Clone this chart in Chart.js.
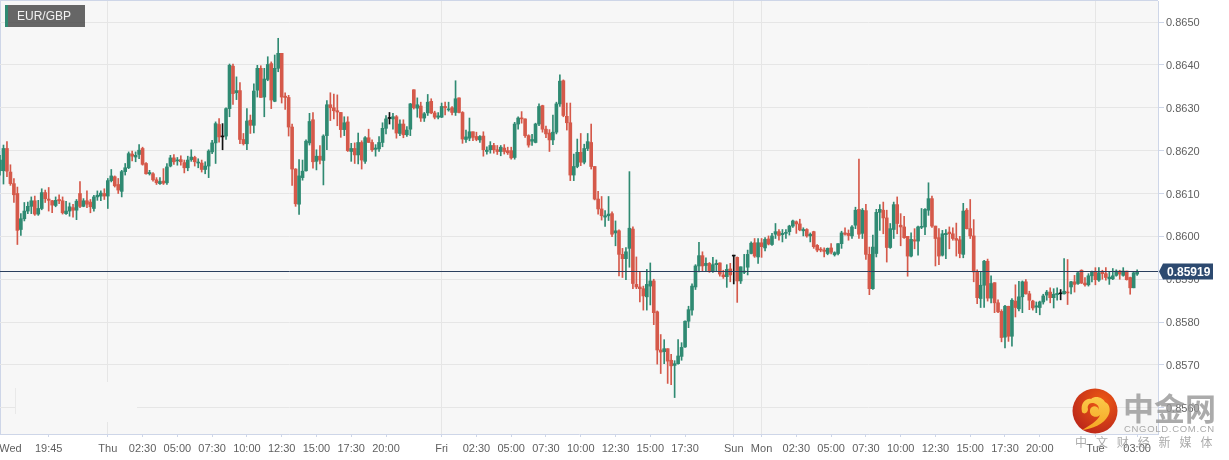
<!DOCTYPE html>
<html>
<head>
<meta charset="utf-8">
<title>EUR/GBP</title>
<script src="https://cdn.jsdelivr.net/npm/chart.js@4"></script>
<style>
    html, body { margin: 0; background: #fff; }
    #wrap { position: relative; width: 1229px; height: 460px; overflow: hidden; font-family: "Liberation Sans", Arial, sans-serif; }
    #badge { position: absolute; left: 5px; top: 5px; width: 77px; height: 22px; line-height: 23px; border-left: 3px solid #2f8a72; background: rgba(70,70,70,.82); color: #f2f2f2; font-size: 12px; text-indent: 9px; }
    #fade { position: absolute; left: 16px; top: 382px; width: 121px; height: 40px; background: #f7f7f7; }
    #fadeline { position: absolute; left: 15px; top: 388px; width: 1px; height: 26px; background: #e9e9e9; }
    #logo { position: absolute; left: 1072px; top: 388px; width: 46px; height: 46px; }
    #wm1 { position: absolute; left: 1123px; top: 385px; font: bold 31px "Noto Sans CJK SC"; color: rgba(150,150,150,.8); line-height: 44px; }
    #wm2 { position: absolute; left: 1124px; top: 423px; font-size: 9.5px; letter-spacing: .7px; color: #a9a9a9; line-height: 11px; white-space: nowrap; }
    #wm3 { position: absolute; left: 1075px; top: 434px; font: 12px "Noto Sans CJK SC"; letter-spacing: 8.9px; color: rgba(150,150,150,.8); line-height: 16px; white-space: nowrap; }
</style>
</head>
<body>
<div id="wrap">
    <canvas id="chart" width="1229" height="460"></canvas>
    <div id="badge">EUR/GBP</div>
    <div id="fade"></div>
    <div id="fadeline"></div>
    <svg id="logo" viewBox="0 0 46 46">
        <defs>
            <radialGradient id="disc" cx="65%" cy="30%" r="80%">
                <stop offset="0" stop-color="#ee5a14"/>
                <stop offset="1" stop-color="#b9241a"/>
            </radialGradient>
            <linearGradient id="cloud" x1="0" y1="0" x2="0" y2="1">
                <stop offset="0" stop-color="#fbc94a"/>
                <stop offset="1" stop-color="#f5a623"/>
            </linearGradient>
        </defs>
        <circle cx="23" cy="23" r="22.5" fill="url(#disc)"/>
        <path fill="url(#cloud)" d="M10 24 C8 15 14 10 19 11 C24 7 31 10 33 14 C38 16 39 23 36 28 C32 36 20 41 10 42 C17 38 26 33 28 27 C24 31 17 28 18 22 C19 17 26 17 27 22 C27 17 24 15 20 15 C17 15 15 18 16 21 C16 25 12 27 10 24 Z"/>
    </svg>
    <div id="wm1">中金网</div>
    <div id="wm2">CNGOLD.COM.CN</div>
    <div id="wm3">中文财经新媒体</div>
</div>
<script>
// 15 minute candles, prices in 1/100000
const opens = [
    86153,86153,86205,86150,86123,86100,86016,86041,86059,86070,
    86083,86052,86065,86102,86087,86083,86072,86086,86083,86053,
    86059,86067,86061,86100,86070,86083,86080,86065,86092,86094,
    86100,86094,86130,86139,86121,86105,86151,86160,86192,86185,
    86191,86205,86170,86146,86146,86132,86123,86129,86125,86164,
    86183,86176,86179,86172,86160,86179,86184,86171,86171,86156,
    86164,86197,86218,86261,86232,86234,86298,86397,86335,86340,
    86226,86216,86271,86259,86341,86392,86325,86366,86403,86315,
    86392,86427,86327,86324,86255,86157,86075,86137,86153,86218,
    86272,86175,86187,86177,86235,86307,86300,86293,86289,86249,
    86267,86198,86205,86190,86219,86175,86230,86219,86203,86204,
    86219,86252,86275,86274,86279,86240,86262,86237,86250,86342,
    86299,86304,86276,86288,86315,86288,86278,86278,86303,86295,
    86300,86289,86323,86289,86226,86229,86244,86233,86225,86234,
    86198,86202,86212,86202,86198,86206,86200,86200,86184,86262,
    86276,86274,86235,86222,86219,86262,86305,86250,86241,86225,
    86243,86309,86363,86280,86265,86143,86163,86196,86173,86205,
    86219,86163,86087,86064,86045,86048,86053,86008,86013,85958,
    85948,85972,86017,85888,85882,85878,85859,85884,85896,85824,
    85735,85731,85738,85711,85699,85703,85720,85742,85802,85828,
    85882,85931,85955,85932,85937,85919,85934,85938,85910,85906,
    85924,85954,85951,85896,85916,85928,85960,85985,85952,85985,
    85973,85994,85981,86005,86011,86004,86007,86011,86024,86034,
    86029,86013,86016,86001,86011,85979,85970,85968,85960,85973,
    85957,85960,85983,86008,86007,86001,86026,86063,86007,86060,
    85958,85878,85960,86056,86061,86043,85974,86016,86074,86026,
    86022,86000,85954,85992,85989,86021,86022,86061,86088,86024,
    85997,85956,86004,86010,86006,85995,85992,85958,86061,86018,
    86001,85917,85855,85886,85942,85856,85892,85845,85825,85765,
    85837,85767,85849,85831,85859,85894,85866,85849,85835,85834,
    85847,85863,85870,85857,85864,85866,85866,85870,85882,85894,
    85890,85921,85891,85887,85908,85917,85898,85917,85913,85901,
    85901,85909,85919,85909,85919,85904,85880,85912
];
const highs = [
    86189,86213,86221,86167,86135,86115,86053,86079,86080,86092,
    86094,86084,86111,86108,86114,86084,86092,86097,86092,86082,
    86078,86075,86086,86128,86088,86106,86086,86096,86106,86106,
    86111,86135,86156,86141,86135,86154,86170,86197,86199,86197,
    86214,86208,86172,86154,86149,86137,86137,86158,86170,86189,
    86191,86184,86188,86178,86187,86202,86187,86181,86178,86174,
    86202,86224,86267,86275,86263,86300,86402,86402,86372,86359,
    86240,86298,86283,86356,86399,86398,86392,86419,86407,86423,
    86462,86427,86335,86329,86262,86158,86179,86178,86225,86287,
    86289,86202,86212,86237,86317,86335,86332,86330,86289,86279,
    86279,86217,86218,86241,86223,86233,86250,86225,86214,86233,
    86265,86282,86289,86287,86282,86272,86272,86256,86310,86342,
    86323,86313,86289,86331,86321,86292,86289,86311,86313,86313,
    86303,86363,86323,86291,86248,86276,86244,86243,86235,86244,
    86209,86221,86217,86212,86212,86214,86208,86208,86266,86279,
    86291,86274,86237,86238,86264,86309,86306,86257,86249,86283,
    86313,86377,86365,86311,86311,86192,86227,86240,86215,86240,
    86262,86163,86105,86093,86060,86093,86057,86036,86015,85972,
    85974,86151,86022,85952,85917,85884,85923,85938,85900,85826,
    85771,85759,85738,85725,85710,85759,85752,85803,85837,85889,
    85934,85986,85964,85950,85939,85951,85945,85938,85921,85934,
    85937,85956,85952,85929,85958,85968,85987,85995,85995,85995,
    85997,86001,86007,86030,86016,86016,86016,86026,86038,86036,
    86040,86020,86018,86008,86012,85981,85974,85973,85973,85983,
    85964,85983,86012,86020,86015,86025,86068,86180,86065,86075,
    85975,86003,86063,86074,86080,86061,86030,86080,86092,86053,
    86047,86000,86008,86018,86024,86065,86065,86125,86094,86024,
    86018,86014,86016,86022,86020,86031,86000,86077,86065,86086,
    86039,85922,85917,85944,85947,85908,85892,85852,85829,85839,
    85837,85855,85887,85895,85896,85899,85872,85851,85847,85849,
    85865,85874,85880,85878,85880,85876,85948,85946,85895,85909,
    85917,85922,85904,85913,85919,85927,85927,85921,85927,85917,
    85925,85922,85921,85927,85919,85905,85916,85922
];
const lows = [
    86143,86122,86139,86119,86079,85981,86002,86036,86053,86053,
    86049,86049,86062,86079,86059,86055,86069,86076,86052,86051,
    86047,86045,86039,86067,86069,86067,86055,86059,86084,86083,
    86086,86065,86127,86115,86100,86092,86143,86158,86176,86174,
    86181,86166,86145,86143,86129,86121,86121,86121,86121,86162,
    86168,86166,86166,86148,86153,86175,86164,86160,86150,86146,
    86137,86193,86170,86220,86202,86226,86279,86308,86319,86216,
    86213,86202,86240,86241,86325,86324,86279,86363,86298,86314,
    86384,86311,86296,86234,86119,86070,86051,86131,86152,86213,
    86159,86155,86169,86120,86202,86270,86274,86258,86231,86235,
    86198,86175,86170,86169,86157,86170,86219,86198,86187,86198,
    86209,86239,86262,86250,86229,86235,86230,86233,86235,86297,
    86278,86268,86268,86282,86286,86274,86274,86277,86283,86292,
    86283,86282,86288,86217,86219,86223,86223,86223,86219,86187,
    86192,86194,86194,86191,86188,86192,86191,86180,86180,86250,
    86264,86231,86208,86212,86218,86258,86243,86230,86198,86214,
    86239,86303,86279,86248,86130,86130,86160,86165,86169,86200,
    86157,86085,86052,86038,86023,86037,85999,85978,85908,85904,
    85899,85928,85878,85878,85847,85828,85828,85840,85794,85702,
    85680,85703,85657,85654,85624,85702,85711,85741,85787,85816,
    85876,85917,85920,85920,85916,85916,85919,85907,85902,85881,
    85894,85889,85846,85890,85913,85910,85959,85951,85937,85951,
    85966,85980,85979,85995,85991,85987,85995,86003,86021,86007,
    86013,86001,85998,85987,85972,85964,85964,85952,85957,85959,
    85954,85957,85972,86003,85991,85995,86018,85995,85995,85946,
    85864,85876,85952,86014,86006,85940,85972,85995,86006,85978,
    85995,85907,85952,85971,85956,86018,86004,86049,86021,85931,
    85934,85954,85948,85971,85991,85954,85950,85950,86017,85995,
    85894,85843,85834,85834,85849,85845,85822,85822,85754,85740,
    85755,85744,85812,85826,85822,85865,85829,85828,85822,85817,
    85842,85851,85845,85833,85851,85852,85865,85841,85866,85870,
    85888,85890,85884,85884,85894,85887,85895,85900,85898,85888,
    85899,85907,85900,85907,85898,85865,85880,85909
];
const closes = [
    86178,86205,86152,86123,86097,86014,86041,86059,86070,86083,
    86052,86065,86102,86088,86084,86073,86084,86083,86055,86059,
    86069,86061,86082,86070,86083,86075,86069,86092,86096,86101,
    86094,86130,86141,86118,86108,86151,86160,86193,86187,86189,
    86201,86168,86146,86149,86132,86125,86128,86124,86162,86183,
    86174,86178,86174,86160,86178,86185,86174,86173,86156,86164,
    86199,86218,86263,86232,86232,86298,86399,86333,86340,86226,
    86216,86269,86259,86339,86392,86324,86367,86401,86318,86392,
    86427,86325,86324,86255,86157,86076,86141,86152,86222,86268,
    86174,86187,86178,86234,86307,86300,86293,86290,86249,86265,
    86200,86205,86190,86219,86178,86230,86219,86202,86206,86219,
    86252,86274,86275,86279,86241,86262,86237,86248,86309,86300,
    86307,86276,86286,86313,86288,86278,86281,86303,86300,86296,
    86289,86321,86289,86227,86232,86244,86231,86226,86233,86202,
    86201,86212,86202,86198,86208,86198,86195,86183,86262,86276,
    86274,86235,86213,86226,86262,86303,86250,86239,86225,86243,
    86309,86362,86282,86265,86143,86163,86196,86173,86205,86221,
    86163,86087,86064,86048,86048,86052,86005,86013,85958,85948,
    85964,86019,85890,85882,85878,85861,85888,85896,85822,85735,
    85730,85738,85709,85698,85703,85721,85741,85802,85829,85884,
    85931,85955,85931,85937,85919,85934,85937,85912,85906,85923,
    85910,85954,85896,85929,85919,85958,85984,85954,85985,85976,
    85993,85982,86001,86011,86002,86007,86009,86024,86036,86029,
    86015,86016,86001,86005,85976,85968,85968,85965,85972,85963,
    85962,85983,86008,86005,86002,86022,86061,86005,86061,85958,
    85878,85975,86056,86063,86043,85974,86018,86074,86030,86022,
    85997,85954,85993,85989,86022,86022,86063,86088,86024,85995,
    85954,86006,86007,86006,85995,85991,85960,86059,86018,86001,
    85917,85857,85886,85942,85856,85890,85845,85824,85764,85837,
    85767,85851,85834,85859,85894,85866,85851,85833,85838,85847,
    85861,85870,85857,85865,85867,85866,85872,85868,85894,85888,
    85915,85891,85887,85908,85917,85899,85915,85913,85904,85905,
    85908,85919,85912,85919,85899,85880,85915,85917
];

// slot index of each time label, the axis has a few empty slots after the last candle
const slotCount = 334;
const tickSlots = [3, 14, 31, 41, 51, 61, 71, 81, 91, 101, 111, 127, 137, 147, 157, 167, 177, 187, 197, 211, 219, 229, 239, 249, 259, 269, 279, 289, 299, 315, 327];
const tickLabels = ["Wed", "19:45", "Thu", "02:30", "05:00", "07:30", "10:00", "12:30", "15:00", "17:30", "20:00", "Fri", "02:30", "05:00", "07:30", "10:00", "12:30", "15:00", "17:30", "Sun", "Mon", "02:30", "05:00", "07:30", "10:00", "12:30", "15:00", "17:30", "20:00", "Tue", "03:00"];
const dayLabels = ["Thu", "Fri", "Sun", "Mon", "Tue"];
const priceTicks = [0.8650, 0.8640, 0.8630, 0.8620, 0.8610, 0.8600, 0.8590, 0.8580, 0.8570, 0.8560];
const lastPrice = 0.85919;

const UP = "#2f8a72", DOWN = "#d5594a", DOJI = "#111111";
const GRID = "#e6e6e6", AXIS = "#ced6e8", TEXT = "#5f5f5f";

const price = v => v / 100000;
const candleColor = i => closes[i] > opens[i] ? UP : closes[i] < opens[i] ? DOWN : DOJI;
const colors = opens.map((_, i) => candleColor(i));
const slots = Array.from({ length: slotCount }, (_, i) => String(i));

// fondo del área y línea del último precio
const framePlugin = {
    id: "frame",
    beforeDraw(chart) {
        const { ctx, chartArea: a } = chart;
        ctx.save();
        ctx.fillStyle = "#f7f7f7";
        ctx.fillRect(a.left, a.top, a.right - a.left, a.bottom - a.top);
        ctx.fillStyle = AXIS;
        ctx.fillRect(0, 0, a.right, 1);
        ctx.fillRect(0, 0, 1, a.bottom);
        ctx.restore();
    },
    afterDraw(chart) {
        const { ctx, chartArea: a, scales } = chart;
        const y = Math.round(scales.y.getPixelForValue(lastPrice)) + 0.5;
        ctx.save();
        ctx.strokeStyle = "#2b3f5e";
        ctx.lineWidth = 1;
        ctx.beginPath();
        ctx.moveTo(a.left, y);
        ctx.lineTo(a.right, y);
        ctx.stroke();
        ctx.fillStyle = "#2d4a70";
        ctx.beginPath();
        ctx.moveTo(a.right + 1, y);
        ctx.lineTo(a.right + 5, y - 8);
        ctx.lineTo(a.right + 55, y - 8);
        ctx.lineTo(a.right + 55, y + 8);
        ctx.lineTo(a.right + 5, y + 8);
        ctx.closePath();
        ctx.fill();
        ctx.fillStyle = "#ffffff";
        ctx.font = "bold 12px 'Liberation Sans', Arial, sans-serif";
        ctx.textAlign = "left";
        ctx.textBaseline = "middle";
        ctx.fillText(lastPrice.toFixed(5), a.right + 9, y + 1);
        ctx.restore();
    }
};

new Chart(document.getElementById("chart"), {
    type: "bar",
    data: {
        labels: slots,
        datasets: [
            {
                label: "wick",
                data: lows.map((l, i) => [price(l), price(highs[i])]),
                backgroundColor: colors,
                barThickness: 1,
                grouped: false,
                order: 2
            },
            {
                label: "body",
                data: opens.map((o, i) => [price(o), price(closes[i])]),
                backgroundColor: colors,
                barThickness: 3,
                minBarLength: 1,
                grouped: false,
                order: 1
            }
        ]
    },
    plugins: [framePlugin],
    options: {
        responsive: false,
        animation: false,
        layout: { autoPadding: false, padding: { top: 1, left: 0, right: 0, bottom: 0 } },
        plugins: { legend: { display: false }, tooltip: { enabled: false } },
        scales: {
            x: {
                type: "category",
                offset: false,
                afterFit(scale) {
                    scale.height = 26;
                    scale.paddingLeft = 0;
                    scale.paddingRight = 0;
                },
                afterBuildTicks(scale) { scale.ticks = tickSlots.map(value => ({ value })); },
                border: { color: AXIS },
                grid: {
                    offset: false,
                    tickLength: 3,
                    color: ctx => dayLabels.includes(tickLabels[tickSlots.indexOf(ctx.tick?.value)]) ? GRID : "transparent",
                    tickColor: ctx => ctx.tick?.value === tickSlots[0] ? "transparent" : AXIS
                },
                ticks: {
                    autoSkip: false,
                    maxRotation: 0,
                    padding: 5,
                    color: TEXT,
                    font: { family: "'Liberation Sans', Arial, sans-serif", size: 11 },
                    callback: v => tickLabels[tickSlots.indexOf(v)]
                }
            },
            y: {
                position: "right",
                min: 0.85539,
                max: 0.86549,
                afterFit(scale) {
                    scale.width = 71;
                    scale.paddingTop = 0;
                    scale.paddingBottom = 0;
                },
                afterBuildTicks(scale) { scale.ticks = priceTicks.map(value => ({ value })); },
                border: { color: AXIS },
                grid: { color: GRID, tickLength: 6, tickColor: AXIS },
                ticks: {
                    padding: 2,
                    labelOffset: 1,
                    color: TEXT,
                    font: { family: "'Liberation Sans', Arial, sans-serif", size: 11 },
                    callback: v => v.toFixed(4)
                }
            }
        }
    }
});
</script>
</body>
</html>
